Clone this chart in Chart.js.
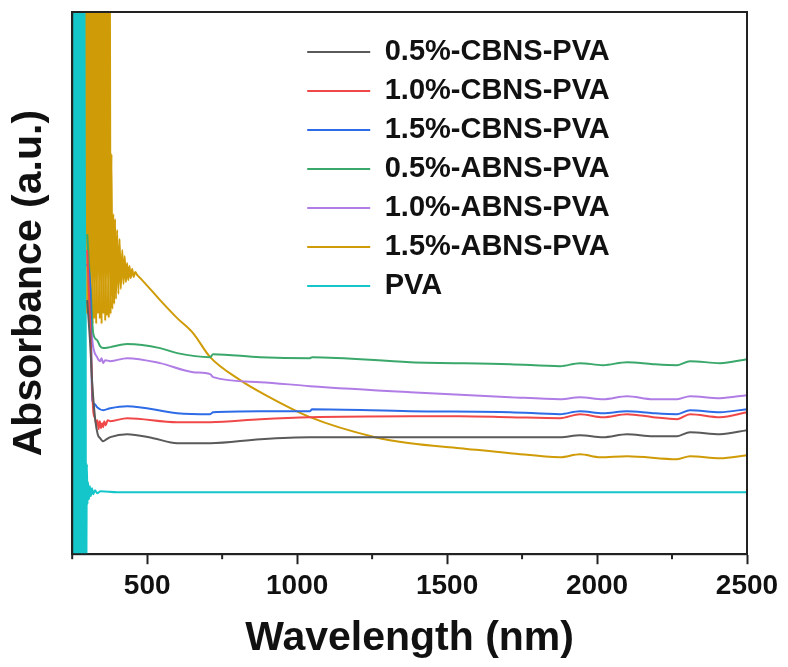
<!DOCTYPE html>
<html>
<head>
<meta charset="utf-8">
<script src="https://cdn.jsdelivr.net/npm/chart.js@4.4.0/dist/chart.umd.min.js"></script>
<style>
  html, body { margin: 0; padding: 0; background: #fff; }
  #wrap { width: 788px; height: 667px; position: relative; }
</style>
</head>
<body>
<div id="wrap"><canvas id="c"></canvas></div>
<script>
// Wavelength (nm) / absorbance (a.u.) pairs
const labels = ['0.5%-CBNS-PVA', '1.0%-CBNS-PVA', '1.5%-CBNS-PVA', '0.5%-ABNS-PVA', '1.0%-ABNS-PVA', '1.5%-ABNS-PVA', 'PVA'];
const xTickValues = [500, 1000, 1500, 2000, 2500];

const cbns05 = [[300,2.54],[310,2.10],[317,1.70],[327,1.34],[335,1.20],[343,1.16],[353,1.13],[365,1.15],[377,1.17],[433,1.20],[520,1.16],[600,1.11],[710,1.11],[877,1.15],[1043,1.17],[1377,1.17],[1710,1.17],[1877,1.17],[1943,1.19],[2020,1.17],[2100,1.20],[2187,1.18],[2267,1.18],[2310,1.22],[2410,1.20],[2500,1.24]];
const cbns10 = [[300,3.04],[310,2.30],[320,1.44],[326,1.36],[330,1.30],[334,1.34],[338,1.25],[342,1.33],[346,1.26],[350,1.31],[353,1.27],[357,1.33],[362,1.29],[368,1.34],[377,1.33],[433,1.36],[600,1.32],[710,1.32],[877,1.35],[1043,1.37],[1377,1.38],[1543,1.38],[1710,1.37],[1877,1.36],[1943,1.40],[2020,1.37],[2100,1.40],[2187,1.37],[2267,1.35],[2310,1.40],[2410,1.37],[2500,1.42]];
const cbns15 = [[300,2.90],[310,2.67],[317,1.54],[325,1.50],[333,1.47],[353,1.44],[377,1.46],[433,1.48],[600,1.41],[710,1.40],[720,1.42],[877,1.43],[1043,1.43],[1050,1.45],[1377,1.43],[1710,1.42],[1877,1.40],[1943,1.43],[2020,1.41],[2100,1.43],[2187,1.41],[2267,1.40],[2310,1.44],[2410,1.42],[2500,1.45]];
const abns05 = [[300,3.20],[312,2.60],[320,2.21],[333,2.14],[343,2.08],[353,2.06],[377,2.07],[433,2.10],[543,2.06],[600,2.01],[710,1.97],[720,2.00],[877,1.97],[1043,1.96],[1050,1.97],[1377,1.92],[1710,1.90],[1877,1.88],[1943,1.91],[2020,1.89],[2100,1.92],[2187,1.90],[2267,1.89],[2310,1.93],[2410,1.91],[2500,1.95]];
const abns10 = [[300,3.04],[308,2.60],[317,2.14],[333,1.97],[343,1.93],[348,1.96],[353,1.91],[360,1.94],[377,1.93],[433,1.96],[543,1.91],[653,1.82],[710,1.80],[720,1.77],[877,1.72],[1043,1.68],[1377,1.62],[1710,1.57],[1877,1.55],[1943,1.57],[2020,1.55],[2100,1.58],[2187,1.55],[2267,1.55],[2310,1.58],[2410,1.56],[2500,1.59]];
const abns15 = [[297,6.5],[300,2.40],[303,6.5],[306,2.30],[309,6.5],[312,2.45],[315,6.5],[318,2.30],[321,6.5],[324,2.35],[327,6.5],[330,2.30],[333,6.5],[336,2.40],[339,6.5],[342,2.35],[345,6.5],[348,2.30],[351,6.5],[354,2.40],[357,6.5],[360,2.33],[363,6.5],[366,2.38],[369,6.5],[372,2.36],[375,6.5],[378,2.40],[381,4.00],[384,2.45],[387,3.40],[390,2.50],[393,3.35],[396,2.55],[400,3.24],[404,2.60],[408,3.15],[412,2.65],[417,3.04],[421,2.70],[425,2.98],[429,2.72],[433,2.91],[437,2.74],[441,2.88],[445,2.76],[450,2.85],[455,2.77],[460,2.82],[467,2.79],[477,2.76],[543,2.54],[600,2.36],[653,2.21],[710,1.97],[810,1.74],[877,1.62],[1043,1.37],[1260,1.17],[1377,1.11],[1543,1.06],[1710,1.01],[1877,0.97],[1943,1.00],[2010,0.97],[2100,0.98],[2267,0.95],[2310,0.98],[2410,0.96],[2500,0.99]];
const pva = [[250,7],[252,-1],[254,7],[256,-1],[258,7],[260,-1],[262,7],[264,-1],[266,7],[268,-1],[270,7],[272,-1],[274,7],[276,-1],[278,7],[280,-1],[282,7],[284,-1],[286,7],[288,-1],[290,7],[292,-1],[294,7],[296,-1],[299,0.90],[301,0.50],[303,0.72],[306,0.55],[309,0.68],[312,0.58],[316,0.66],[320,0.60],[326,0.64],[333,0.61],[345,0.63],[400,0.62],[2500,0.62]];

const seriesList = [cbns05, cbns10, cbns15, abns05, abns10, abns15, pva];
const colors = ['#5a5a5a', '#f04848', '#2e6be6', '#3aa86a', '#b07de6', '#cf9b06', '#14c6ca'];

const FONT = "'Liberation Sans', Arial, sans-serif";

const datasets = seriesList.map((s, i) => ({
  label: labels[i],
  data: s.map(p => ({ x: p[0], y: p[1] })),
  borderColor: colors[i],
  backgroundColor: colors[i],
  borderWidth: 2,
  pointRadius: 0,
  cubicInterpolationMode: 'monotone',
  fill: false
}));

const framePlugin = {
  id: 'frame',
  afterLayout(chart) {
    const lg = chart.legend;
    if (lg) {
      lg.left = chart.chartArea.left + 225;
      lg.top = chart.chartArea.top + 15.5;
    }
  },
  afterDraw(chart) {
    const { ctx, chartArea: a, scales } = chart;
    const x = scales.x;
    ctx.save();
    ctx.strokeStyle = '#222';
    ctx.lineWidth = 2;
    ctx.strokeRect(a.left, a.top, a.right - a.left, a.bottom - a.top);
    x.ticks.forEach(t => {
      if (!xTickValues.includes(t.value)) {
        const px = x.getPixelForValue(t.value);
        ctx.beginPath();
        ctx.moveTo(px, a.bottom);
        ctx.lineTo(px, a.bottom + 5);
        ctx.stroke();
      }
    });
    ctx.restore();
  }
};

new Chart(document.getElementById('c'), {
  type: 'line',
  data: { datasets },
  plugins: [framePlugin],
  options: {
    responsive: true,
    maintainAspectRatio: false,
    animation: false,
    layout: { padding: { top: 12, right: 41, left: 0, bottom: 0 } },
    plugins: {
      tooltip: { enabled: false },
      legend: {
        position: 'chartArea',
        align: 'start',
        labels: {
          usePointStyle: true,
          pointStyle: 'line',
          pointStyleWidth: 63,
          padding: 10,
          color: '#111',
          font: { family: FONT, size: 29, weight: 'bold' }
        }
      }
    },
    scales: {
      x: {
        type: 'linear',
        min: 250,
        max: 2500,
        ticks: {
          stepSize: 250,
          autoSkip: false,
          maxRotation: 0,
          padding: 5,
          color: '#111',
          font: { family: FONT, size: 28, weight: 'bold' },
          callback: (v) => xTickValues.includes(v) ? String(v) : ''
        },
        grid: {
          display: true,
          drawOnChartArea: false,
          drawTicks: true,
          tickLength: 10,
          tickWidth: 2,
          tickColor: (c) => (c.tick && xTickValues.includes(c.tick.value)) ? '#222' : 'rgba(0,0,0,0)'
        },
        border: { display: true, color: '#222', width: 2 },
        title: {
          display: true,
          text: 'Wavelength (nm)',
          color: '#111',
          font: { family: FONT, size: 41, weight: 'bold' },
          padding: { top: 6, bottom: 4 }
        }
      },
      y: {
        min: 0,
        max: 5.42,
        ticks: { display: false },
        grid: { display: false, drawTicks: false, tickLength: 0 },
        border: { display: true, color: '#222', width: 2 },
        title: {
          display: true,
          text: 'Absorbance (a.u.)',
          color: '#111',
          font: { family: FONT, size: 41, weight: 'bold' },
          padding: { top: 5, bottom: 18 }
        }
      }
    }
  }
});
</script>
</body>
</html>
